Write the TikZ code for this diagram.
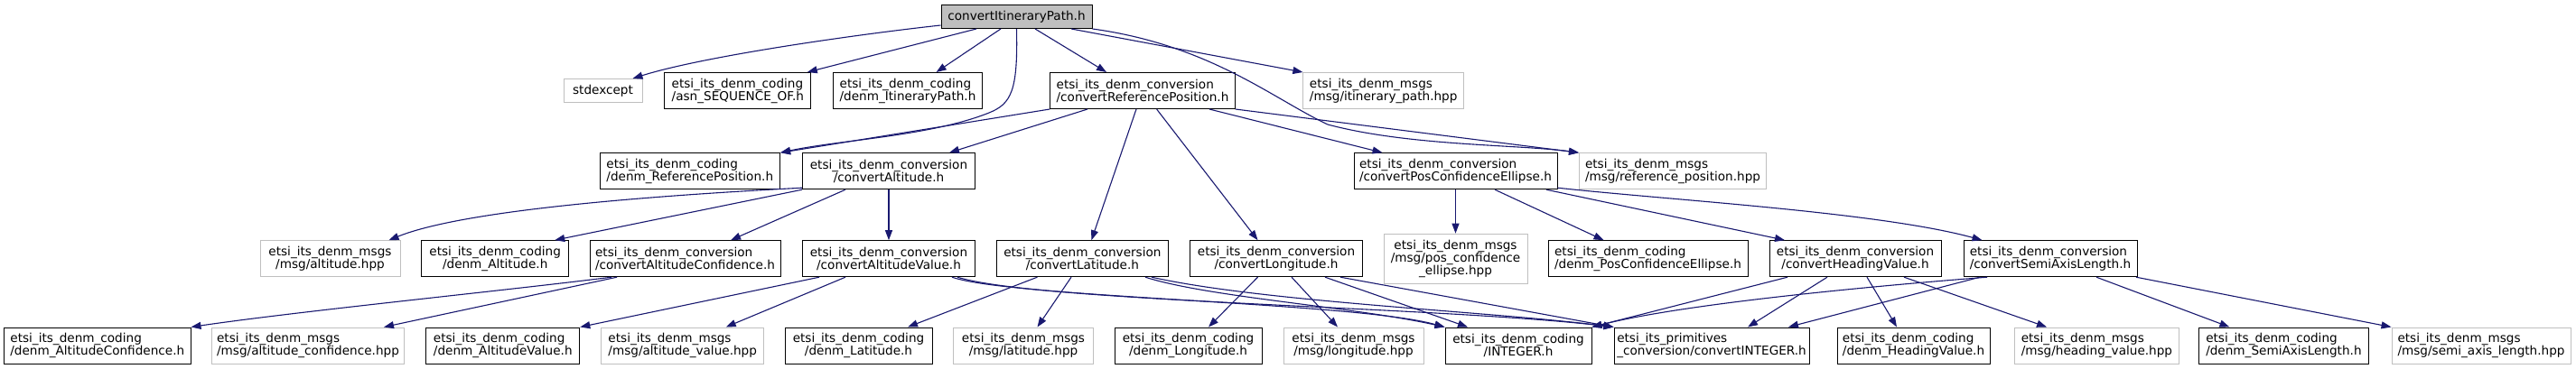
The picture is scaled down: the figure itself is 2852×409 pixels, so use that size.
\documentclass[tikz,border=0pt]{standalone}
\usepackage{fontspec}
\setmainfont{DejaVu Sans}
\usetikzlibrary{arrows.meta}
\definecolor{edgeblue}{HTML}{191970}
\definecolor{extgray}{HTML}{BFBFBF}
\definecolor{topgray}{HTML}{BFBFBF}
\tikzstyle{file} = [draw=black, fill=white, line width=1pt, minimum height=40pt, inner xsep=3pt, inner ysep=1pt, align=center]
\tikzstyle{extfile} = [file, draw=extgray]
\tikzstyle{topfile} = [file, fill=topgray, minimum height=26pt]
\tikzstyle{arrow} = [line width=1.1pt, draw=edgeblue, ->, >={Triangle[length=11pt,width=8pt]}]

\begin{document}
\begin{tikzpicture}[
            x=1pt, y=-1pt,
            every node/.style={font=\fontsize{13.6pt}{14pt}\selectfont}
        ]
            \path[use as bounding box, fill=white] (0,0) rectangle (2852,409);

            \node[topfile, minimum width=167pt] (itpath) at (1125.5,18.5) {convertItineraryPath.h};

            \node[extfile, minimum width=87pt, minimum height=26pt] (stdx) at (667.5,100.5) {stdexcept};
            \node[file, align=left, minimum width=162pt] (asn) at (816.8,100.5) {etsi\_its\_denm\_coding\\/asn\_SEQUENCE\_OF.h};
            \node[file, align=left, minimum width=165pt] (itin) at (1005,100.5) {etsi\_its\_denm\_coding\\/denm\_ItineraryPath.h};
            \node[file, align=left, minimum width=204.5pt] (crp) at (1265,100.5) {etsi\_its\_denm\_conversion\\/convertReferencePosition.h};
            \node[extfile, align=left, minimum width=177.6pt] (itinhpp) at (1531.7,100.5) {etsi\_its\_denm\_msgs\\/msg/itinerary\_path.hpp};

            \node[file, align=left, minimum width=199.5pt] (drp) at (763.8,189.7) {etsi\_its\_denm\_coding\\/denm\_ReferencePosition.h};
            \node[file, minimum width=191pt] (calt) at (984,189.7) {etsi\_its\_denm\_conversion\\/convertAltitude.h};
            \node[file, align=left, minimum width=225pt] (cpce) at (1611.5,189.7) {etsi\_its\_denm\_conversion\\/convertPosConfidenceEllipse.h};
            \node[extfile, align=left, minimum width=207pt] (refhpp) at (1852,189.7) {etsi\_its\_denm\_msgs\\/msg/reference\_position.hpp};

            \node[extfile, minimum width=155pt] (althpp) at (365.5,286.7) {etsi\_its\_denm\_msgs\\/msg/altitude.hpp};
            \node[file, minimum width=163pt] (dalt) at (548.2,286.7) {etsi\_its\_denm\_coding\\/denm\_Altitude.h};
            \node[file, align=left, minimum width=211pt] (calc) at (758.5,286.7) {etsi\_its\_denm\_conversion\\/convertAltitudeConfidence.h};
            \node[file, minimum width=191pt] (calv) at (984,286.7) {etsi\_its\_denm\_conversion\\/convertAltitudeValue.h};
            \node[file, minimum width=190.7pt] (clat) at (1198.4,286.7) {etsi\_its\_denm\_conversion\\/convertLatitude.h};
            \node[file, minimum width=190.6pt] (clon) at (1413,286.7) {etsi\_its\_denm\_conversion\\/convertLongitude.h};
            \node[extfile, minimum width=159pt, minimum height=55pt] (pcehpp) at (1611.5,286.7) {etsi\_its\_denm\_msgs\\/msg/pos\_confidence\\\_ellipse.hpp};
            \node[file, align=left, minimum width=221pt] (dpce) at (1824.5,286.7) {etsi\_its\_denm\_coding\\/denm\_PosConfidenceEllipse.h};
            \node[file, minimum width=190pt] (chv) at (2054,286.7) {etsi\_its\_denm\_conversion\\/convertHeadingValue.h};
            \node[file, align=left, minimum width=192pt] (csal) at (2270,286.7) {etsi\_its\_denm\_conversion\\/convertSemiAxisLength.h};

            \node[file, align=left, minimum width=206.4pt] (dalc) at (107.8,383) {etsi\_its\_denm\_coding\\/denm\_AltitudeConfidence.h};
            \node[extfile, align=left, minimum width=213.7pt] (alchpp) at (341,383) {etsi\_its\_denm\_msgs\\/msg/altitude\_confidence.hpp};
            \node[file, align=left, minimum width=170pt] (dalv) at (556.8,383) {etsi\_its\_denm\_coding\\/denm\_AltitudeValue.h};
            \node[extfile, align=left, minimum width=179.7pt] (alvhpp) at (755.7,383) {etsi\_its\_denm\_msgs\\/msg/altitude\_value.hpp};
            \node[file, minimum width=163pt] (dlat) at (950.5,383) {etsi\_its\_denm\_coding\\/denm\_Latitude.h};
            \node[extfile, minimum width=155pt] (lathpp) at (1133,383) {etsi\_its\_denm\_msgs\\/msg/latitude.hpp};
            \node[file, minimum width=163pt] (dlon) at (1315.5,383) {etsi\_its\_denm\_coding\\/denm\_Longitude.h};
            \node[extfile, minimum width=155pt] (lonhpp) at (1498.5,383) {etsi\_its\_denm\_msgs\\/msg/longitude.hpp};
            \node[file, minimum width=162pt] (dint) at (1681,383) {etsi\_its\_denm\_coding\\/INTEGER.h};
            \node[file, align=left, minimum width=216pt] (cint) at (1895,383) {etsi\_its\_primitives\\\_conversion/convertINTEGER.h};
            \node[file, align=left, minimum width=169pt] (dhv) at (2118.5,383) {etsi\_its\_denm\_coding\\/denm\_HeadingValue.h};
            \node[extfile, align=left, minimum width=182.7pt] (hvhpp) at (2321.4,383) {etsi\_its\_denm\_msgs\\/msg/heading\_value.hpp};
            \node[file, align=left, minimum width=187.3pt] (dsal) at (2528.4,383) {etsi\_its\_denm\_coding\\/denm\_SemiAxisLength.h};
            \node[extfile, align=left, minimum width=198pt] (salhpp) at (2747,383) {etsi\_its\_denm\_msgs\\/msg/semi\_axis\_length.hpp};

            \draw[arrow] ([yshift=-9.5pt]itpath.west) .. controls (950,38) and (780,62) .. ([xshift=33pt]stdx.north);
            \draw[arrow] ([xshift=-44.5pt]itpath.south) -- ([xshift=77pt]asn.north);
            \draw[arrow] ([xshift=-17.5pt]itpath.south) -- ([xshift=31.6pt]itin.north);
            \draw[arrow] (itpath.south) .. controls (1127,100) and (1120,115) .. (1095,125) .. controls (1030,151) and (930,155) .. (drp.north east);
            \draw[arrow] ([xshift=20.5pt]itpath.south) -- ([xshift=-40pt]crp.north);
            \draw[arrow] ([xshift=60.5pt]itpath.south) -- (itinhpp.north west);
            \draw[arrow] (itpath.south east) .. controls (1340,50) and (1410,110) .. (1470,138) .. controls (1560,162) and (1680,160) .. (refhpp.north west);

            \draw[arrow] (crp.south west) -- (drp.north east);
            \draw[arrow] ([xshift=-61pt]crp.south) -- ([xshift=67pt]calt.north);
            \draw[arrow] ([xshift=-7pt]crp.south) -- ([xshift=10pt]clat.north);
            \draw[arrow] ([xshift=15.6pt]crp.south) -- ([xshift=-20.5pt]clon.north);
            \draw[arrow] ([xshift=74pt]crp.south) -- ([xshift=-81pt]cpce.north);
            \draw[arrow] (crp.south east) -- (refhpp.north west);

            \draw[arrow] ([yshift=2pt]calt.south west) .. controls (760,215) and (520,230) .. ([xshift=65pt]althpp.north);
            \draw[arrow] (calt.south west) -- ([xshift=66pt]dalt.north);
            \draw[arrow] ([xshift=-48pt]calt.south) -- ([xshift=50.5pt]calc.north);
            \draw[arrow] (calt) -- (calv);

            \draw[arrow] ([xshift=-81.5pt]calc.south) .. controls (560,322) and (330,345) .. (dalc.north east);
            \draw[arrow] ([xshift=-75.5pt]calc.south) -- ([xshift=84pt]alchpp.north);

            \draw[arrow] ([xshift=-77pt]calv.south) -- (dalv.north east);
            \draw[arrow] ([xshift=-48pt]calv.south) -- ([xshift=48pt]alvhpp.north);
            \draw[arrow] ([xshift=70pt]calv.south) .. controls (1120,330) and (1500,335) .. (dint.north west);
            \draw[arrow] ([xshift=76pt]calv.south) .. controls (1150,335) and (1600,340) .. (cint.north west);

            \draw[arrow] ([xshift=-50pt]clat.south) -- ([xshift=54.5pt]dlat.north);
            \draw[arrow] ([xshift=-12.4pt]clat.south) -- ([xshift=15.5pt]lathpp.north);
            \draw[arrow] ([xshift=69.6pt]clat.south) .. controls (1340,330) and (1500,340) .. (dint.north west);
            \draw[arrow] ([xshift=76.6pt]clat.south) .. controls (1400,335) and (1650,345) .. (cint.north west);

            \draw[arrow] ([xshift=-20.5pt]clon.south) -- ([xshift=22.5pt]dlon.north);
            \draw[arrow] ([xshift=17pt]clon.south) -- ([xshift=-17.5pt]lonhpp.north);
            \draw[arrow] ([xshift=54pt]clon.south) -- ([xshift=-56pt]dint.north);
            \draw[arrow] ([xshift=71pt]clon.south) -- (cint.north west);

            \draw[arrow] (cpce) -- (pcehpp);
            \draw[arrow] ([xshift=43.5pt]cpce.south) -- ([xshift=-49pt]dpce.north);
            \draw[arrow] ([xshift=100.5pt]cpce.south) -- ([xshift=-78pt]chv.north);
            \draw[arrow] ([yshift=2pt]cpce.south east) .. controls (1850,222) and (2080,235) .. ([xshift=-75.5pt]csal.north);

            \draw[arrow] ([xshift=-75pt]chv.south) -- (dint.north east);
            \draw[arrow] ([xshift=-31pt]chv.south) -- ([xshift=40pt]cint.north);
            \draw[arrow] ([xshift=13pt]chv.south) -- ([xshift=-18.5pt]dhv.north);
            \draw[arrow] ([xshift=54pt]chv.south) -- ([xshift=-55.4pt]hvhpp.north);

            \draw[arrow] ([xshift=-70pt]csal.south) .. controls (2100,315) and (1870,335) .. (dint.north east);
            \draw[arrow] ([xshift=-78pt]csal.south) -- ([xshift=85pt]cint.north);
            \draw[arrow] ([xshift=51pt]csal.south) -- ([xshift=-60pt]dsal.north);
            \draw[arrow] ([xshift=95pt]csal.south) -- (salhpp.north west);
        \end{tikzpicture}
\end{document}
